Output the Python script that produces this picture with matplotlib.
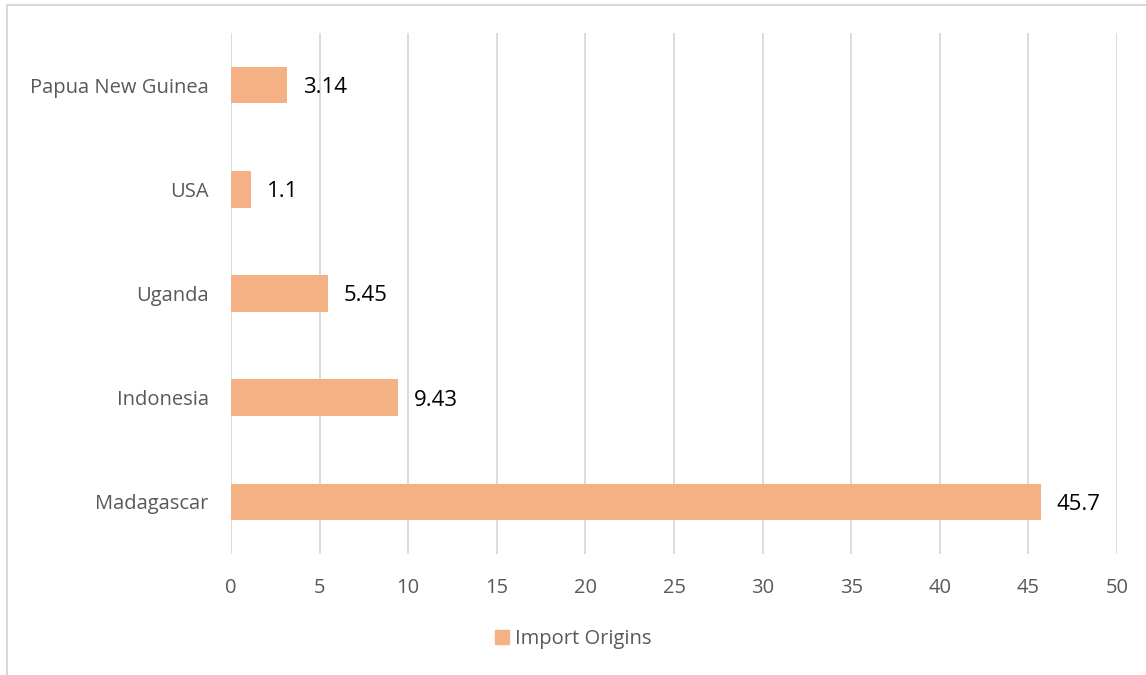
import matplotlib.pyplot as plt
from matplotlib.lines import Line2D

countries = ['Madagascar', 'Indonesia', 'Uganda', 'USA', 'Papua New Guinea']
values = [45.7, 9.43, 5.45, 1.1, 3.14]
labels = ['45.7', '9.43', '5.45', '1.1', '3.14']

bar_color = '#F4B183'
text_grey = '#595959'

plt.rcParams['font.family'] = ['Open Sans', 'DejaVu Sans']

fig = plt.figure(figsize=(11.46, 6.75), dpi=100)
ax = fig.add_axes([0.2016, 0.1793, 0.7731, 0.7718])

pos = list(range(len(countries)))
ax.barh(pos, values, height=0.35, color=bar_color, zorder=3)
for p, v, t in zip(pos, values, labels):
    ax.text(v + 0.9, p, t, va='center_baseline', ha='left', fontsize=16, color='black')

ax.set_xlim(0, 50)
ax.set_ylim(-0.5, 4.5)
ax.set_xticks(range(0, 51, 5))
ax.set_yticks(pos)
ax.set_yticklabels(countries)
ax.tick_params(axis='both', length=0, labelsize=14.5, colors=text_grey)
ax.tick_params(axis='x', pad=17)
ax.tick_params(axis='y', pad=16)
ax.grid(axis='x', color='#D9D9D9', linewidth=1.3, zorder=0)
for s in ax.spines.values():
    s.set_visible(False)

handle = plt.Rectangle((0, 0), 1, 1, color=bar_color)
fig.legend([handle], ['Import Origins'], loc='center', bbox_to_anchor=(0.5, 0.053),
           frameon=False, fontsize=14.5, labelcolor=text_grey,
           handlelength=0.7, handleheight=0.7, handletextpad=0.3)

# chart area border (top and left edges visible)
fig.add_artist(Line2D([0.006, 1.0], [0.993, 0.993], color='#D9D9D9', linewidth=1.5))
fig.add_artist(Line2D([0.006, 0.006], [0.0, 0.993], color='#D9D9D9', linewidth=1.5))

fig.savefig('out.png', dpi=100)
